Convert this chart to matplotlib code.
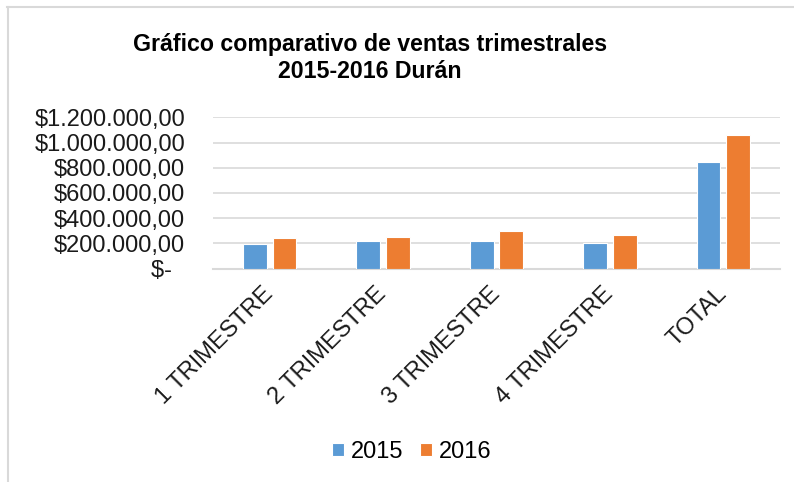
import matplotlib
matplotlib.use("Agg")
import matplotlib.pyplot as plt
from matplotlib.lines import Line2D
from matplotlib.ticker import FuncFormatter
import numpy as np

categories = ["1 TRIMESTRE", "2 TRIMESTRE", "3 TRIMESTRE", "4 TRIMESTRE", "TOTAL"]
ventas_2015 = [198000, 217000, 217000, 206000, 849000]
ventas_2016 = [243000, 254000, 299000, 265000, 1063000]
series_names = ["2015", "2016"]
yticks = [0, 200000, 400000, 600000, 800000, 1000000, 1200000]

plt.rcParams['font.family'] = ['Liberation Sans', 'DejaVu Sans']

W, H = 794, 482
fig = plt.figure(figsize=(W/100, H/100), dpi=100)
ax = fig.add_axes([213/W, 1-268.7/H, (780-213)/W, (268.7-117.3)/H])

x = np.arange(len(categories))
bw = 0.21
off = 0.13
c15, c16 = "#5B9BD5", "#ED7D31"
ax.bar(x - off, ventas_2015, bw, color=c15, edgecolor="white", linewidth=0.8, label=series_names[0], zorder=3)
ax.bar(x + off, ventas_2016, bw, color=c16, edgecolor="white", linewidth=0.8, label=series_names[1], zorder=3)

ax.set_xlim(-0.5, len(categories)-0.5)
ax.set_ylim(0, 1200000)
ax.set_yticks(yticks)

def fmt(v, pos):
    if v == 0:
        return "$-  "
    s = f"{v:,.2f}"
    s = s.replace(",", "X").replace(".", ",").replace("X", ".")
    return "$" + s
ax.yaxis.set_major_formatter(FuncFormatter(fmt))
ax.grid(axis="y", color="#d9d9d9", linewidth=1.2, zorder=0)
for s in ["top", "right", "left"]:
    ax.spines[s].set_visible(False)
ax.spines["bottom"].set_color("#d9d9d9")
ax.spines["bottom"].set_linewidth(1.5)
ax.tick_params(axis="y", length=0, pad=20, labelsize=17, labelcolor="#1a1a1a")
ax.tick_params(axis="x", length=0, pad=16, labelsize=17, labelcolor="#1a1a1a")
ax.set_xticks(x)
ax.set_xticklabels(categories, rotation=45, ha="right", va="center", rotation_mode="anchor")

fig.text(370/W, 1-58/H, "Gráfico comparativo de ventas trimestrales\n2015-2016 Durán",
         ha="center", va="center", fontsize=16.7, fontweight="bold", linespacing=1.2)

leg = fig.legend(loc="center", bbox_to_anchor=(412/W, 1-452/H), ncol=2, frameon=False,
                 fontsize=17, handlelength=0.5, handleheight=0.5, handletextpad=0.3, columnspacing=0.7)

# frame lines (top and left)
fig.add_artist(Line2D([7/W, 1], [1-7/H, 1-7/H], color="#d9d9d9", linewidth=1.5, transform=fig.transFigure))
fig.add_artist(Line2D([7.5/W, 7.5/W], [0, 1-7/H], color="#d9d9d9", linewidth=1.5, transform=fig.transFigure))

fig.savefig("out.png", dpi=100)
